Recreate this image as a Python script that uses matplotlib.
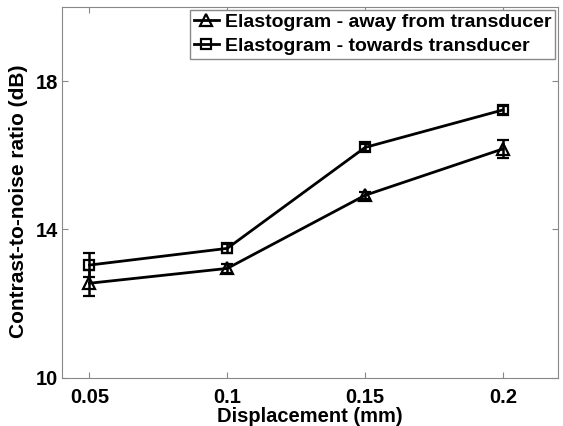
import matplotlib
matplotlib.use("Agg")
import matplotlib.pyplot as plt
from matplotlib.lines import Line2D

# displacement (mm)
displacement = [0.05, 0.1, 0.15, 0.2]

# contrast-to-noise ratio (dB)
cnr_away = [12.55, 12.95, 14.92, 16.17]
err_away = [0.35, 0.13, 0.1, 0.24]
cnr_towards = [13.04, 13.49, 16.21, 17.22]
err_towards = [0.33, 0.12, 0.1, 0.1]

labels = ["Elastogram - away from transducer", "Elastogram - towards transducer"]

plt.rcParams["font.family"] = ["Liberation Sans", "DejaVu Sans"]
plt.rcParams["font.weight"] = "bold"

fig = plt.figure(figsize=(5.63, 4.26), dpi=100)
ax = fig.add_axes([0.110, 0.113, 0.881, 0.871])

style = dict(color="black", lw=2, mfc="none", mec="black", mew=1.6,
             capsize=4, elinewidth=1.8, capthick=1.8)
ax.errorbar(displacement, cnr_away, yerr=err_away, marker="^", ms=9, **style)
ax.errorbar(displacement, cnr_towards, yerr=err_towards, marker="s", ms=7, **style)

ax.set_xlim(0.04, 0.22)
ax.set_ylim(10, 20)
ax.set_xticks(displacement)
ax.set_xticklabels(["0.05", "0.1", "0.15", "0.2"])
ax.set_yticks([10, 14, 18])
ax.tick_params(direction="in", top=True, right=True, length=4, color="#888888",
               labelsize=14.5)
ax.tick_params(axis="x", pad=7)
ax.tick_params(axis="y", pad=3)
for sp in ax.spines.values():
    sp.set_color("#888888")

ax.set_xlabel("Displacement (mm)", fontsize=14.5, fontweight="bold", labelpad=0)
ax.set_ylabel("Contrast-to-noise ratio (dB)", fontsize=15, fontweight="bold", labelpad=3)
ax.yaxis.set_label_coords(-0.068, 0.475)

handles = [Line2D([], [], color="black", lw=2, marker="^", ms=9, mfc="none", mew=1.6),
           Line2D([], [], color="black", lw=2, marker="s", ms=7, mfc="none", mew=1.6)]
leg = ax.legend(handles, labels, loc="upper right", fontsize=14, handlelength=1.3,
                handletextpad=0.3, borderaxespad=0.15, borderpad=0.2, labelspacing=0.3,
                fancybox=False, framealpha=1, edgecolor="#888888")
leg.get_frame().set_linewidth(1.0)

fig.savefig("out.png", dpi=100)
